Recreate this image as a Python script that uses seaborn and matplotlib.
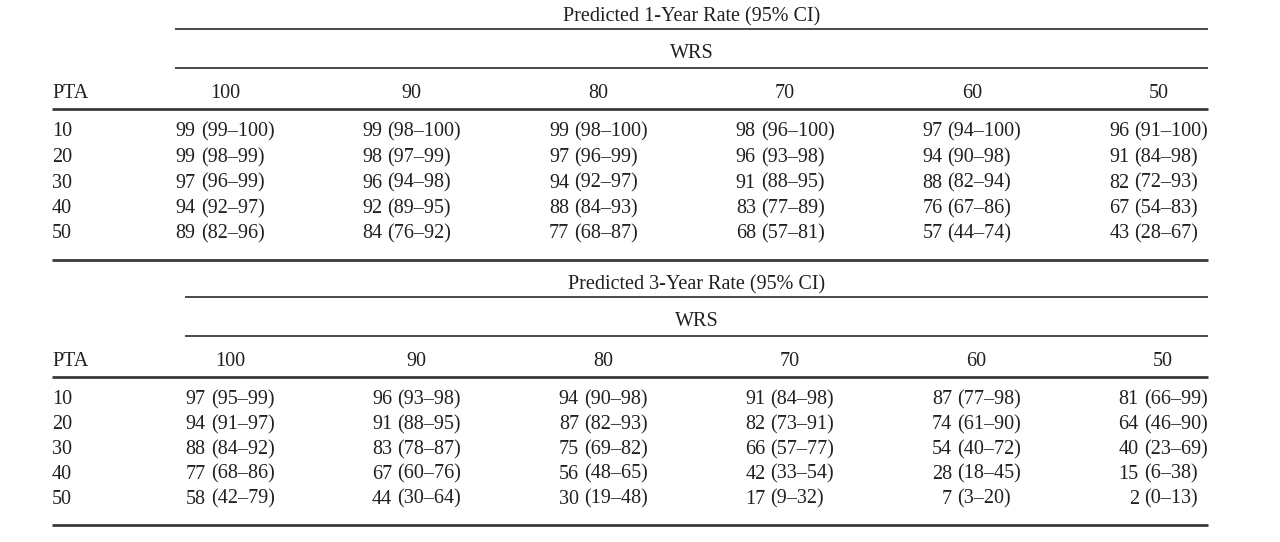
import matplotlib
matplotlib.use("Agg")
import matplotlib.pyplot as plt
import seaborn as sns

# row / column labels
pta = [10, 20, 30, 40, 50]
wrs = [100, 90, 80, 70, 60, 50]

# predicted 1-year rate, lower and upper 95% CI
rate1 = [[99, 99, 99, 98, 97, 96],
         [99, 98, 97, 96, 94, 91],
         [97, 96, 94, 91, 88, 82],
         [94, 92, 88, 83, 76, 67],
         [89, 84, 77, 68, 57, 43]]
rate1_lo = [[99, 98, 98, 96, 94, 91],
            [98, 97, 96, 93, 90, 84],
            [96, 94, 92, 88, 82, 72],
            [92, 89, 84, 77, 67, 54],
            [82, 76, 68, 57, 44, 28]]
rate1_hi = [[100, 100, 100, 100, 100, 100],
            [99, 99, 99, 98, 98, 98],
            [99, 98, 97, 95, 94, 93],
            [97, 95, 93, 89, 86, 83],
            [96, 92, 87, 81, 74, 67]]

# predicted 3-year rate, lower and upper 95% CI
rate3 = [[97, 96, 94, 91, 87, 81],
         [94, 91, 87, 82, 74, 64],
         [88, 83, 75, 66, 54, 40],
         [77, 67, 56, 42, 28, 15],
         [58, 44, 30, 17, 7, 2]]
rate3_lo = [[95, 93, 90, 84, 77, 66],
            [91, 88, 82, 73, 61, 46],
            [84, 78, 69, 57, 40, 23],
            [68, 60, 48, 33, 18, 6],
            [42, 30, 19, 9, 3, 0]]
rate3_hi = [[99, 98, 98, 98, 98, 99],
            [97, 95, 93, 91, 90, 90],
            [92, 87, 82, 77, 72, 69],
            [86, 76, 65, 54, 45, 38],
            [79, 64, 48, 32, 20, 13]]

sns.set_theme(style="white")
plt.rcParams['font.family'] = ['Liberation Serif', 'DejaVu Serif']
FS = 14.5
INK = '#202020'
RULE = '#3a3a3a'
BASE = 6.5  # baseline sits this far below the visual middle of a line

fig = plt.figure(figsize=(12.8, 5.42), dpi=100)
ax = fig.add_axes([0, 0, 1, 1])
ax.set_xlim(0, 1280)
ax.set_ylim(542, 0)
ax.axis('off')
renderer = fig.canvas.get_renderer()


def width_px(txt):
    t = ax.text(0, 0, txt, fontsize=FS)
    w = t.get_window_extent(renderer).width
    t.remove()
    return w


def put(x, y, s, ha):
    ax.text(x, y + BASE, s, fontsize=FS, ha=ha, va='baseline', color=INK)


def draw_block(title, est, lo, hi, y0, x_first, step, row_step, rule_left):
    right = 1208
    mid = (rule_left + right) / 2
    put(mid, y0, title, 'center')
    ax.hlines(y0 + 14, rule_left, right, color=RULE, lw=1.3)
    put(mid, y0 + 37, 'WRS', 'center')
    ax.hlines(y0 + 53, rule_left, right, color=RULE, lw=1.3)
    y_head = y0 + 76
    put(52, y_head, 'PTA', 'left')
    ax.hlines(y0 + 93.5, 52, right, color=RULE, lw=2)

    gap = 5
    row_y = [y0 + 115 + i * row_step for i in range(len(pta))]
    for j, w in enumerate(wrs):
        cx = x_first + j * step
        put(cx, y_head, str(w), 'center')
        # estimate right-aligned, CI left-aligned: lined up on the "("
        nums = [str(est[i][j]) for i in range(len(pta))]
        cis = ['(%d–%d)' % (lo[i][j], hi[i][j]) for i in range(len(pta))]
        wn = max(width_px(s) for s in nums)
        wc = max(width_px(s) for s in cis)
        left = cx - (wn + gap + wc) / 2
        xp = left + wn + gap
        for i in range(len(pta)):
            put(xp - gap, row_y[i], nums[i], 'right')
            put(xp, row_y[i], cis[i], 'left')

    for i, p in enumerate(pta):
        put(52, row_y[i], str(p), 'left')
    ax.hlines(row_y[-1] + 28, 52, right, color=RULE, lw=2)


draw_block('Predicted 1-Year Rate (95% CI)', rate1, rate1_lo, rate1_hi,
           15, 225, 186.7, 25.5, 175)
draw_block('Predicted 3-Year Rate (95% CI)', rate3, rate3_lo, rate3_hi,
           283, 230, 186.6, 24.75, 185)

fig.savefig('out.png', dpi=100)
